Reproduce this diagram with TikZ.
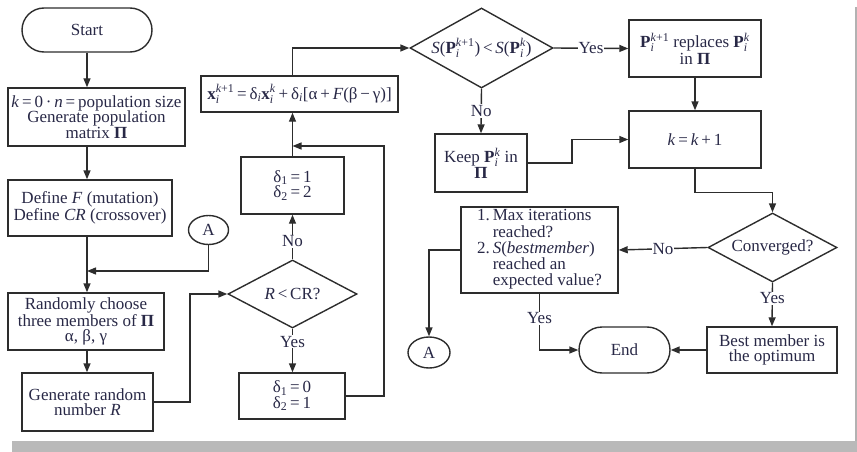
\documentclass[tikz,border=0pt]{standalone}
\usepackage{amsmath}
\usepackage{fontspec}
\setmainfont{Liberation Serif}
\usetikzlibrary{arrows.meta,shapes.geometric,shapes.misc}
\definecolor{ink}{RGB}{40,40,70}
\definecolor{ln}{RGB}{45,45,45}
\newcommand{\fs}{\fontsize{17}{15.5}\selectfont}
\newcommand{\Pk}[1]{$\textbf{P}^{\text{#1}}_{\text{\textit{i}}}$}
\newcommand{\sub}[1]{$_{\text{#1}}$}
\begin{document}
\begin{tikzpicture}[x=1pt,y=-1pt,
  every node/.style={font=\fs, text=ink},
  box/.style={draw=ln, line width=1.4pt, rectangle, inner sep=0pt, align=center},
  stad/.style={draw=ln, line width=1.4pt, rounded rectangle, inner sep=0pt, align=center},
  dia/.style={draw=ln, line width=1.4pt, diamond, inner sep=0pt},
  conn/.style={draw=ln, line width=1.4pt},
  circ/.style={draw=ln, line width=1.4pt, ellipse, inner sep=0pt, minimum width=40pt, minimum height=29pt},
  arr/.style={conn, -{Triangle[length=9pt,width=7pt]}},
  lab/.style={fill=white, inner sep=1pt}]
\useasboundingbox (0,0) rectangle (857,452);
% frame shadow
\fill[gray!55] (12,441) rectangle (857,452);
\draw[gray!60, line width=1.5pt] (856,7) -- (856,441);

% left column
\node[stad, minimum width=130pt, minimum height=44pt] (start) at (87,30) {Start};
\node[box, minimum width=177pt, minimum height=58pt] (b1) at (96.5,117)
  {\textit{k}\,=\,0\,·\,\textit{n}\,=\,population size\\Generate population\\matrix \textbf{Π}};
\node[box, minimum width=164pt, minimum height=56pt] (b2) at (90,208)
  {Define \textit{F} (mutation)\\Define \textit{CR} (crossover)};
\node[box, minimum width=156pt, minimum height=57pt] (b3) at (86,321.5)
  {Randomly choose\\three members of \textbf{Π}\\α, β, γ};
\node[box, minimum width=131pt, minimum height=58pt] (b4) at (87.5,402)
  {Generate random\\number \textit{R}};
\node[circ] (A1) at (208.5,230) {A};

% middle column
\node[dia, minimum width=129pt, minimum height=68pt] (d1) at (292.5,294) {};
\node at (d1) {\textit{R}\,<\,CR?};
\node[box, minimum width=103pt, minimum height=57pt] (dA) at (292.5,185.5)
  {δ\sub{1}\,=\,1\\δ\sub{2}\,=\,2};
\node[box, minimum width=106pt, minimum height=46pt] (dB) at (292,396)
  {δ\sub{1}\,=\,0\\δ\sub{2}\,=\,1};
\node[box, minimum width=197pt, minimum height=36pt] (fm) at (299.5,94)
  {\textbf{x}$^{\text{\textit{k}+1}}_{\text{\textit{i}}}$\,=\,δ\sub{\textit{i}}\textbf{x}$^{\text{\textit{k}}}_{\text{\textit{i}}}$\,+\,δ\sub{\textit{i}}[α\,+\,\textit{F}(β\,−\,γ)]};

% right part
\node[dia, minimum width=143pt, minimum height=80pt] (d2) at (481.5,48) {};
\node at (d2) {\textit{S}(\Pk{\textit{k}+1})\,<\,\textit{S}(\Pk{\textit{k}})};
\node[box, minimum width=132pt, minimum height=57pt] (rep) at (695,48.5)
  {\Pk{\textit{k}+1} replaces \Pk{\textit{k}}\\in \textbf{Π}};
\node[box, minimum width=132pt, minimum height=57pt] (kk) at (695,139.5)
  {\textit{k}\,=\,\textit{k}\,+\,1};
\node[box, minimum width=92pt, minimum height=58pt] (keep) at (481,163)
  {Keep \Pk{\textit{k}} in\\\textbf{Π}};
\node[dia, minimum width=129pt, minimum height=69pt] (conv) at (772.5,247.5) {};
\node at (conv) {Converged?};
\node[box, minimum width=157pt, minimum height=86pt] (chk) at (539.5,250)
  {\renewcommand{\arraystretch}{0.97}\begin{tabular}{@{}l@{\,}l@{}}1. & Max iterations\\ & reached?\\ 2. & \textit{S}(\textit{bestmember})\\ & reached an\\ & expected value?\end{tabular}};
\node[circ, minimum width=42pt, minimum height=31pt] (A2) at (429,352.5) {A};
\node[stad, minimum width=91pt, minimum height=46pt] (end) at (624.5,350) {End};
\node[box, minimum width=130pt, minimum height=46pt] (best) at (772,350)
  {Best member is\\the optimum};

% helper coordinates
\coordinate (colL) at (87,0);
\coordinate (j1) at (87,271);
\coordinate (x190) at (190,0);
\coordinate (lp) at (384,146);
\coordinate (x572) at (572,0);

% connectors left column
\draw[arr] (start.south) -- (colL |- b1.north);
\draw[arr] (colL |- b1.south) -- (colL |- b2.north);
\draw[arr] (colL |- b2.south) -- (colL |- b3.north);
\draw[arr] (A1.south) |- (j1);
\draw[arr] (colL |- b3.south) -- (colL |- b4.north);
\draw[arr] (b4.east) -- (b4.east -| x190) |- (d1.west);

% middle
\draw[arr] (d1.north) -- node[lab, pos=0.4] {No} (d1.north |- dA.south);
\draw[arr] (d1.south) -- node[lab, pos=0.3] {Yes} (d1.south |- dB.north);
\draw[arr] (dB.east) -| (lp) -- (dA.north |- lp);
\draw[arr] (dA.north) -- (dA.north |- fm.south);
\draw[arr] (dA.north |- fm.north) |- (d2.west);

% right
\draw[arr] (d2.east) -- node[lab] {Yes} (rep.west);
\draw[arr] (d2.south) -- node[lab] {No} (keep.north);
\draw[arr] (rep.south) -- (kk.north);
\draw[arr] (keep.east) -- (keep.east -| x572) |- (kk.west);
\draw[arr] (kk.south) -- ++(0,24) -| (conv.north);
\draw[arr] (conv.west) -- node[lab] {No} (chk.east);
\draw[arr] (chk.west) -| (A2.north);
\draw[arr] (chk.south) |- node[lab, pos=0.22] {Yes} (end.west);
\draw[arr] (conv.south) -- node[lab, pos=0.36] {Yes} (best.north);
\draw[arr] (best.west) -- (end.east);
\end{tikzpicture}
\end{document}
